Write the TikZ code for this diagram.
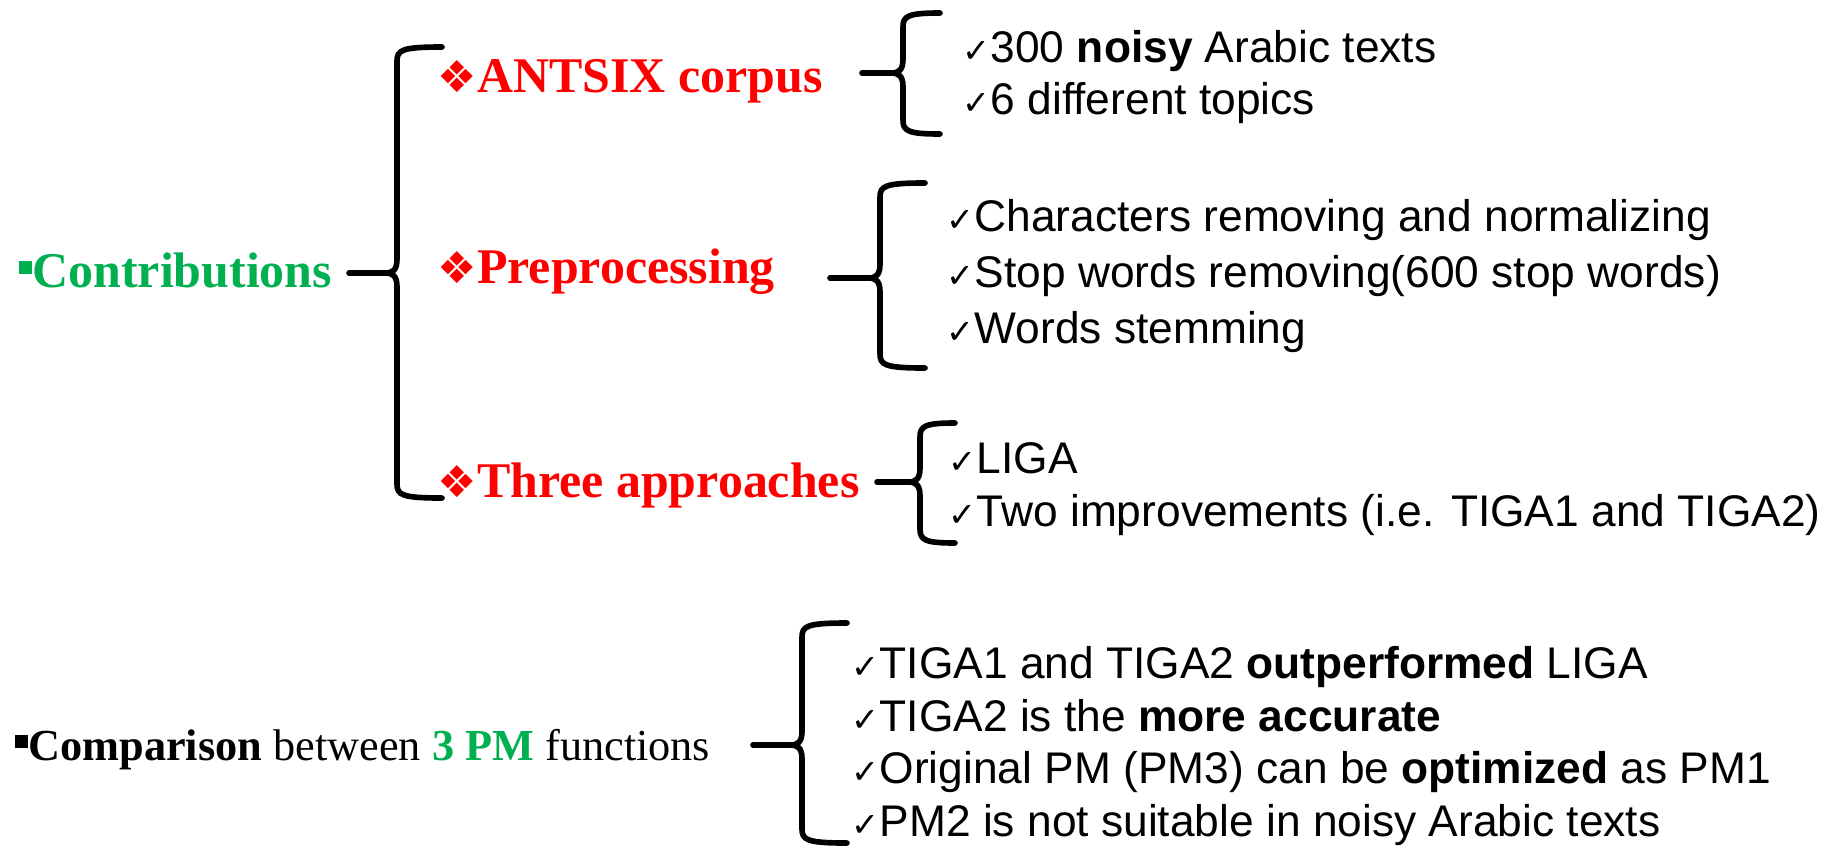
\documentclass[tikz,border=0pt]{standalone}
\usepackage{fontspec}
\setmainfont{Liberation Serif}
\newfontfamily\arialfont{Liberation Sans}
\newfontfamily\symfont{DejaVu Sans}
\usetikzlibrary{positioning}
\definecolor{headgreen}{RGB}{0,176,80}
\definecolor{headred}{RGB}{255,0,0}
\newcommand\chk{{\symfont\fontsize{9.5}{9.5}\selectfont ✓}}
\newcommand\dia{{\symfont\fontsize{12.5}{12.5}\selectfont ❖}}
\newcommand\sqb[1]{\rule[#1]{3.9pt}{3.9pt}}
% spine x, hook x, top, mid, bottom, stub x
\newcommand\grpbrace[6]{%
  \draw[curly] (#2,#3) .. controls (#1+5,#3) and (#1,#3+3) .. (#1,#3+14)
    -- (#1,#4-14) .. controls (#1,#4-3) and (#1-4,#4) .. (#1-12,#4)
    .. controls (#1-4,#4) and (#1,#4+3) .. (#1,#4+14)
    -- (#1,#5-14) .. controls (#1,#5-3) and (#1+5,#5) .. (#2,#5);
  \draw[curly] (#6,#4) -- (#1-12,#4);}
\tikzset{
  head/.style={font=\fontsize{14.2}{16}\selectfont\bfseries, text=headred, inner sep=0pt, anchor=base west},
  item/.style={font=\arialfont\fontsize{12.6}{15}\selectfont, align=left, inner sep=0pt, anchor=west},
  curly/.style={line width=1.6pt, line join=round, line cap=round},
}
\begin{document}
\begin{tikzpicture}[x=0.01cm, y=-0.01cm]
  \useasboundingbox[fill=white] (0,0) rectangle (1843,851);

  % left column
  \node[head, text=headgreen] (contrib) at (18,287) {\sqb{3.6pt}Contributions};
  \node[head, text=black, font=\fontsize{12.6}{14}\selectfont] (compare) at (14,760)
    {\sqb{3.3pt}\textbf{Comparison} between \textcolor{headgreen}{\textbf{3 PM}} functions};

  % middle column
  \node[head] (antsix) at (437,92) {\dia ANTSIX corpus};
  \node[head] (prep) at (437,283) {\dia Preprocessing};
  \node[head] (three) at (437,497) {\dia Three approaches};

  % right column
  \node[item] (corpus) at (962,77) {\chk300 \textbf{noisy} Arabic texts\\\chk6 different topics};
  \node[item, font=\arialfont\fontsize{12.6}{16}\selectfont] (steps) at (946,276)
    {\chk Characters removing and normalizing\\
    \chk Stop words removing(600 stop words)\\\chk Words stemming};
  \node[item] (algos) at (948,489) {\chk LIGA\\\chk Two improvements (i.e. TIGA1 and TIGA2)};
  \node[item] (results) at (851,746) {\chk TIGA1 and TIGA2 \textbf{outperformed} LIGA\\
    \chk TIGA2 is the \textbf{more accurate}\\
    \chk Original PM (PM3) can be \textbf{optimized} as PM1\\
    \chk PM2 is not suitable in noisy Arabic texts};

  % braces
  \grpbrace{397}{442}{47}{273}{498}{349}
  \grpbrace{903}{940}{13}{73}{134}{862}
  \grpbrace{880}{925}{183}{278}{368}{830}
  \grpbrace{920}{955}{423}{482}{543}{877}
  \grpbrace{802}{847}{623}{745}{843}{753}
\end{tikzpicture}
\end{document}
